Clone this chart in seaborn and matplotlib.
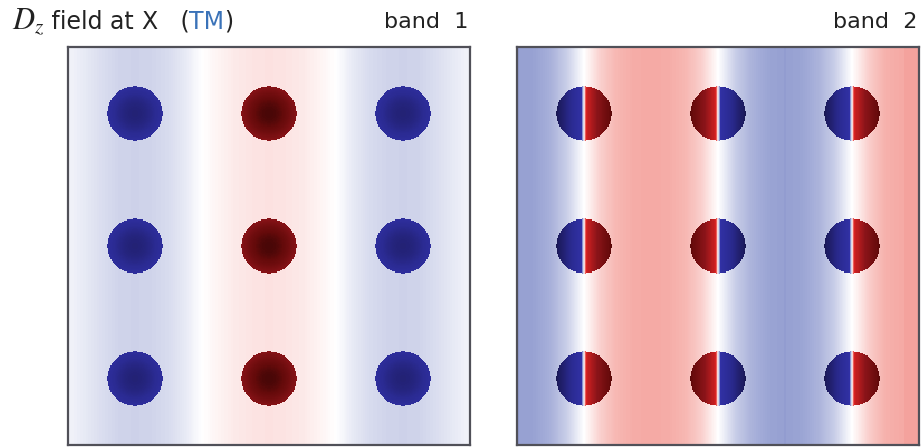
import numpy as np
import pandas as pd
import seaborn as sns
import matplotlib.pyplot as plt
from matplotlib.colors import LinearSegmentedColormap

# Field profile across the supercell (x in lattice units)
profile_x = [0.0, 0.125, 0.25, 0.375, 0.5, 0.625, 0.75, 0.875, 1.0, 1.125, 1.25, 1.375, 1.5,
             1.625, 1.75, 1.875, 2.0, 2.125, 2.25, 2.375, 2.5, 2.625, 2.75, 2.875, 3.0]
band1_profile = [-0.05, -0.09, -0.14, -0.18, -0.19, -0.18, -0.15, -0.09, 0.0, 0.05, 0.09, 0.11, 0.12,
                 0.11, 0.09, 0.05, 0.0, -0.09, -0.15, -0.18, -0.19, -0.18, -0.14, -0.09, -0.05]
band2_profile = [-0.40, -0.39, -0.33, -0.20, 0.0, 0.20, 0.30, 0.34, 0.35, 0.34, 0.30, 0.20, 0.0,
                 -0.20, -0.32, -0.38, -0.40, -0.38, -0.32, -0.20, 0.0, 0.20, 0.32, 0.35, 0.36]

# Dielectric rods (square lattice, 3x3 supercell)
rod_cols = [0.5, 1.5, 2.5]
rod_rows = [0.5, 1.5, 2.5]
rod_radius = 0.205

# Band 1: rods uniformly one sign, darker at the core (one entry per rod column)
band1_rod_sign = [-1, 1, -1]
band1_rod_edge = [0.60, 0.72, 0.60]
band1_rod_core = [0.80, 0.96, 0.80]

# Band 2: rods split in halves (odd field), darker toward the rim
band2_rod_sign = [1, -1, 1]
band2_rod_inner = 0.50
band2_rod_outer = 0.92

titles = ["band  1", "band  2"]

# colour stops: (field value, rgb)
cmap_values = [-1.0, -0.9, -0.7, -0.5, -0.4, 0.0, 0.35, 0.45, 0.5, 0.7, 0.9, 1.0]
cmap_colors = [(15, 12, 45), (28, 26, 92), (42, 42, 145), (50, 50, 168), (150, 160, 210),
               (255, 255, 255), (245, 170, 165), (228, 48, 45), (222, 35, 35), (140, 20, 25),
               (100, 10, 10), (55, 5, 5)]


def build_field(profile, rod_kind, n=360):
    xs = (np.arange(n) + 0.5) / n * 3.0
    X, Y = np.meshgrid(xs, xs)
    field = np.tile(np.interp(xs, profile_x, profile), (n, 1))
    for ci, cx in enumerate(rod_cols):
        for cy in rod_rows:
            dx = X - cx
            r = np.hypot(dx, Y - cy)
            inside = r <= rod_radius
            if rod_kind == 1:
                s = band1_rod_sign[ci]
                edge, core = band1_rod_edge[ci], band1_rod_core[ci]
                val = s * (edge + (core - edge) * (1 - (r / rod_radius) ** 2))
            else:
                s = band2_rod_sign[ci]
                val = s * np.tanh(dx / 0.012) * (band2_rod_inner + (band2_rod_outer - band2_rod_inner) * np.abs(dx) / rod_radius)
            field[inside] = val[inside]
    return pd.DataFrame(field)


def main():
    sns.set_style("white")
    plt.rcParams["font.family"] = ["DejaVu Sans"]
    plt.rcParams["mathtext.fontset"] = "stix"

    cmap = LinearSegmentedColormap.from_list(
        "field", [((v + 1) / 2, tuple(c / 255 for c in rgb)) for v, rgb in zip(cmap_values, cmap_colors)]
    )

    fig = plt.figure(figsize=(9.24, 4.48), dpi=100)
    ax1 = fig.add_axes([68 / 924, 3 / 448, 402 / 924, 398 / 448])
    ax2 = fig.add_axes([517 / 924, 3 / 448, 402 / 924, 398 / 448])

    for ax, profile, kind, title in [(ax1, band1_profile, 1, titles[0]), (ax2, band2_profile, 2, titles[1])]:
        sns.heatmap(build_field(profile, kind), ax=ax, cmap=cmap, vmin=-1, vmax=1, cbar=False,
                    xticklabels=False, yticklabels=False, rasterized=True)
        for sp in ax.spines.values():
            sp.set_visible(True)
            sp.set_color("#505058")
            sp.set_linewidth(1.6)
        ax.text(0.995, 1.047, title, transform=ax.transAxes, ha="right", va="baseline",
                fontsize=16, color="#222222")

    # Title assembled from pieces so that "TM" can be coloured
    fig.canvas.draw()
    renderer = fig.canvas.get_renderer()
    x = 12 / 924
    y = 1 - 29 / 448
    pieces = [("$D_z$", "#222222", 22), (" field at ", "#222222", 17), ("X", "#222222", 17),
              ("   (", "#222222", 17), ("TM", "#3a72b8", 17), (")", "#222222", 17)]
    for txt, col, fs in pieces:
        t = fig.text(x, y, txt, fontsize=fs, color=col, ha="left", va="baseline")
        bb = t.get_window_extent(renderer=renderer)
        x = bb.x1 / fig.bbox.width

    fig.savefig("out.png", dpi=100)


if __name__ == "__main__":
    main()
